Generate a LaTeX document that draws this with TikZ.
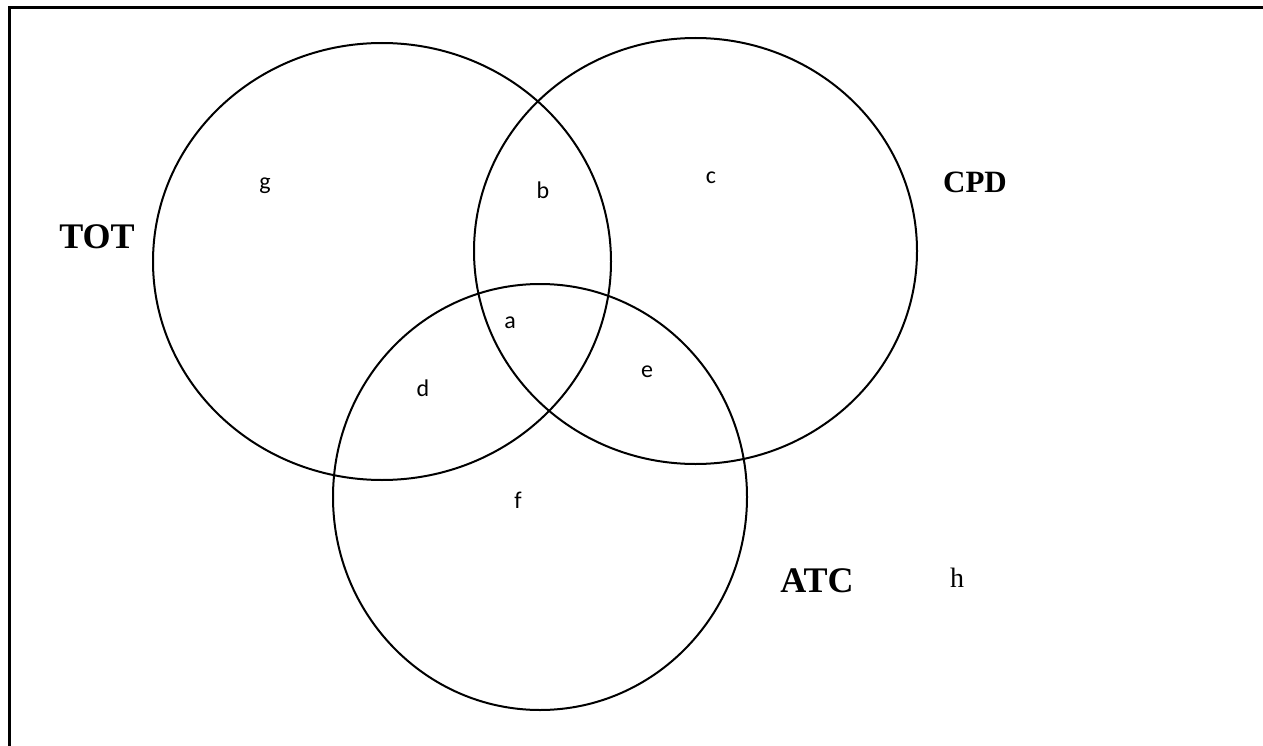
\documentclass[tikz,border=0pt]{standalone}
\usepackage{fontspec}
\setmainfont{Liberation Serif}
\newfontfamily\calib{Carlito}
\begin{document}
\begin{tikzpicture}[x=1pt,y=-1pt,
  venn/.style={line width=2pt},
  region/.style={font=\calib\fontsize{24}{28}\selectfont, inner sep=0pt},
  setname/.style={font=\bfseries\fontsize{36}{40}\selectfont, inner sep=0pt}]
\useasboundingbox (0,0) rectangle (1263,746);
\draw[line width=3pt] (9.5,760) -- (9.5,7.5) -- (1275,7.5);
% sets
\draw[venn] (382,261.5) ellipse [x radius=229, y radius=218.5];
\draw[venn] (695.5,251) ellipse [x radius=221.5, y radius=213];
\draw[venn] (540,497) ellipse [x radius=207, y radius=213];
% region labels
\node[region] (g) at (265,186) {g};
\node[region] (b) at (543,190) {b};
\node[region] (c) at (711,178) {c};
\node[region] (a) at (510,323) {a};
\node[region] (d) at (423,388) {d};
\node[region] (e) at (647,372) {e};
\node[region] (f) at (518,500) {f};
% set names
\node[setname] (tot) at (97,237) {TOT};
\node[setname, font=\bfseries\fontsize{31}{36}\selectfont] (cpd) at (975,182) {CPD};
\node[setname] (atc) at (817,581) {ATC};
\node[inner sep=0pt, font=\fontsize{28}{32}\selectfont] (h) at (957,578) {h};
\end{tikzpicture}
\end{document}
